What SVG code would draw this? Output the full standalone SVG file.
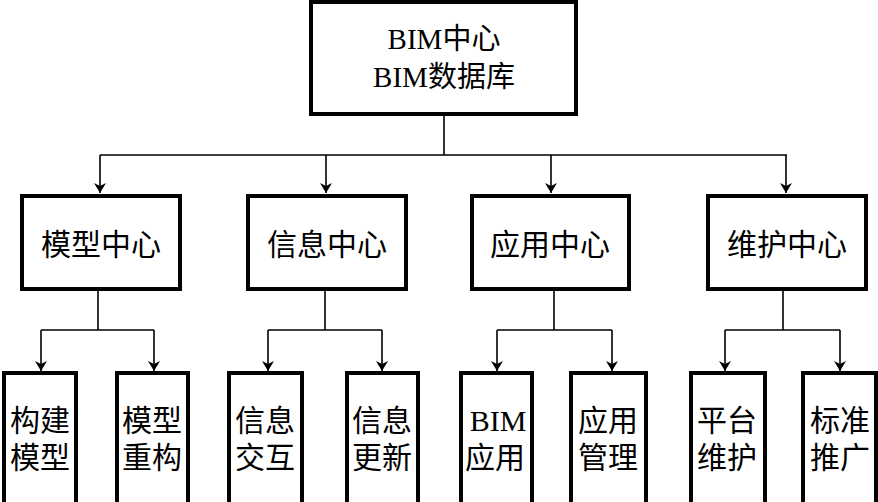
<svg xmlns="http://www.w3.org/2000/svg" width="878" height="502" viewBox="0 0 878 502">
<style>
.box{fill:#fff;stroke:#000;stroke-width:4}
.ln{fill:none;stroke:#000;stroke-width:1.6}
.t{font-family:"Liberation Serif","Noto Sans CJK SC",serif;font-size:30px;fill:#000;text-anchor:middle}
.top{font-size:29px}
</style>
<defs>
<marker id="ah" viewBox="0 0 10 16" refX="10" refY="8" markerWidth="10" markerHeight="16" markerUnits="userSpaceOnUse" orient="auto">
<path d="M0,2 L10,8 L0,14 L3,8 Z" fill="#000"/>
</marker>
</defs>
<g id="connectors">
<path class="ln" d="M444,114 V155 M100,155 H787"/>
<path class="ln" d="M100,155 V193" marker-end="url(#ah)"/>
<path class="ln" d="M326,155 V193" marker-end="url(#ah)"/>
<path class="ln" d="M551,155 V193" marker-end="url(#ah)"/>
<path class="ln" d="M786,155 V193" marker-end="url(#ah)"/>
<path class="ln" d="M98,289 V330 M41,330 H154 M325,289 V330 M268,330 H382 M554,289 V330 M497,330 H612 M783,289 V330 M725,330 H840"/>
<path class="ln" d="M41,330 V371" marker-end="url(#ah)"/>
<path class="ln" d="M154,330 V371" marker-end="url(#ah)"/>
<path class="ln" d="M268,330 V371" marker-end="url(#ah)"/>
<path class="ln" d="M382,330 V371" marker-end="url(#ah)"/>
<path class="ln" d="M497,330 V371" marker-end="url(#ah)"/>
<path class="ln" d="M612,330 V371" marker-end="url(#ah)"/>
<path class="ln" d="M725,330 V371" marker-end="url(#ah)"/>
<path class="ln" d="M840,330 V371" marker-end="url(#ah)"/>
</g>
<g id="root">
<rect class="box" x="311" y="2" width="265" height="112"/>
<text class="t top" x="444" y="49">BIM中心</text>
<text class="t top" x="444" y="87">BIM数据库</text>
</g>
<g id="n-model">
<rect class="box" x="22" y="196" width="158" height="93"/>
<text class="t" x="101" y="255">模型中心</text>
</g>
<g id="n-info">
<rect class="box" x="248" y="196" width="158" height="93"/>
<text class="t" x="327" y="255">信息中心</text>
</g>
<g id="n-app">
<rect class="box" x="472" y="196" width="157" height="93"/>
<text class="t" x="550" y="255">应用中心</text>
</g>
<g id="n-maint">
<rect class="box" x="708" y="196" width="158" height="93"/>
<text class="t" x="787" y="255">维护中心</text>
</g>
<g id="b1"><rect class="box" x="4" y="373" width="72" height="140"/><text class="t" x="40" y="431">构建</text><text class="t" x="40" y="468">模型</text></g>
<g id="b2"><rect class="box" x="117" y="373" width="71" height="140"/><text class="t" x="152" y="431">模型</text><text class="t" x="152" y="468">重构</text></g>
<g id="b3"><rect class="box" x="229" y="373" width="73" height="140"/><text class="t" x="265" y="431">信息</text><text class="t" x="265" y="468">交互</text></g>
<g id="b4"><rect class="box" x="347" y="373" width="71" height="140"/><text class="t" x="382" y="431">信息</text><text class="t" x="382" y="468">更新</text></g>
<g id="b5"><rect class="box" x="461" y="373" width="71" height="140"/><text class="t" x="498" y="431">BIM</text><text class="t" x="495" y="468">应用</text></g>
<g id="b6"><rect class="box" x="571" y="373" width="75" height="140"/><text class="t" x="608" y="431">应用</text><text class="t" x="608" y="468">管理</text></g>
<g id="b7"><rect class="box" x="691" y="373" width="74" height="140"/><text class="t" x="727" y="431">平台</text><text class="t" x="727" y="468">维护</text></g>
<g id="b8"><rect class="box" x="803" y="373" width="73" height="140"/><text class="t" x="840" y="431">标准</text><text class="t" x="840" y="468">推广</text></g>
</svg>
